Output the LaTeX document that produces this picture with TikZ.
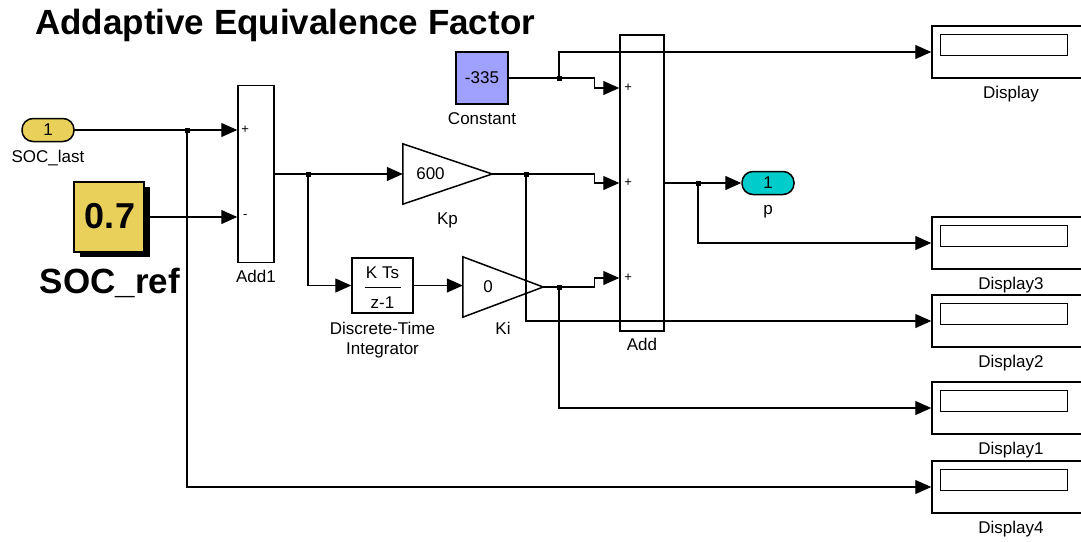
\documentclass[tikz,border=0pt]{standalone}
\usepackage{fontspec}
\setmainfont{Liberation Sans}
\usetikzlibrary{arrows.meta,calc,positioning,shadows}
\definecolor{inportyellow}{HTML}{E8D05A}
\definecolor{constblue}{HTML}{A0A0FF}
\definecolor{outcyan}{HTML}{00CCCC}
\tikzset{
every picture/.style={line cap=butt,line join=miter},
>={Triangle[length=16pt,width=14pt]},
sim block/.style={draw=black, line width=1.5pt, inner sep=0pt, font=\fontsize{17}{20}\selectfont},
port pill/.style={sim block, minimum width=52pt, minimum height=23pt, rounded corners=11pt},
gain box/.style={inner sep=0pt, minimum width=89pt, minimum height=60pt},
disp box/.style={sim block, minimum width=158pt, minimum height=52pt},
sig wire/.style={draw=black, line width=1.3pt},
sig arrow/.style={sig wire, ->},
branch dot/.style={fill=black, inner sep=0pt, minimum size=5pt},
sum sign/.style={font=\fontsize{13}{14}\selectfont, inner sep=0pt},
blk label/.style={font=\fontsize{17}{20}\selectfont, inner sep=0pt, align=center},
big bold/.style={font=\fontsize{35}{40}\selectfont\bfseries, inner sep=0pt},
every label/.style={blk label},
label distance=7pt
}

\begin{document}
\begin{tikzpicture}[x=1pt,y=-1pt]
\path[use as bounding box, fill=white] (0,0) rectangle (1081,541);
\clip (0,0) rectangle (1081,541);

\node[big bold, anchor=base west] (title) at (35,34) {Addaptive Equivalence Factor};

\node[port pill, fill=inportyellow, label={[label distance=8pt]below:SOC\_last}] (socl) at (48,130) {1};
\node[sim block, fill=inportyellow, minimum size=70pt, drop shadow={fill=black, opacity=1, shadow xshift=6pt, shadow yshift=-5pt}] (socr) at (109,217) {};
\node[big bold, font=\fontsize{36}{40}\selectfont\bfseries, anchor=base] (socrval) at (110,228) {0.7};
\node[big bold, anchor=base] (socrname) at (110,293) {SOC\_ref};

\node[sim block, minimum width=36pt, minimum height=177pt, label=below:Add1] (add1) at (256,174) {};
\node[sim block, fill=constblue, minimum size=52pt, label={[label distance=8pt]below:Constant}] (const) at (482,78) {-335};

\node[gain box, label={[label distance=8pt]below:Kp}] (kp) at (447.5,174) {};
\draw[sim block] (kp.north west) -- (kp.east) -- (kp.south west) -- cycle;
\node[blk label] (kpval) at ($(kp.center)+(-17,0)$) {600};

\node[sim block, minimum width=61pt, minimum height=55pt, label={[label distance=8pt]below:Discrete-Time\\Integrator}] (integ) at (382.5,285.5) {};
\node[blk label] (integnum) at ($(integ.center)+(0,-12.5)$) {K Ts};
\draw[line width=1pt] ($(integ.center)+(-18,1.5)$) -- ++(36,0);
\node[blk label] (integden) at ($(integ.center)+(0,17.5)$) {z-1};

\node[gain box, minimum width=80pt, label={[label distance=5pt]below:Ki}] (ki) at (503,287) {};
\draw[sim block] (ki.north west) -- (ki.east) -- (ki.south west) -- cycle;
\node[blk label] (kival) at ($(ki.center)+(-15,0)$) {0};

\node[sim block, minimum width=44pt, minimum height=296pt, label={[label distance=6pt]below:Add}] (add) at (642,183) {};
\coordinate (a1) at ($(add.west)+(0,-95)$);
\coordinate (a2) at (add.west);
\coordinate (a3) at ($(add.west)+(0,95)$);

\node[port pill, fill=outcyan, label={[label distance=10pt]below:p}] (pout) at (768,183) {1};

\foreach \name/\ypos/\txt in {disp/52/Display, disp3/243/Display3, disp2/321/Display2, disp1/408/Display1, disp4/487/Display4}{
\node[disp box, label=below:\txt] (\name) at (1011,\ypos) {};
\draw[line width=1.5pt] ($(\name.north west)+(9,9)$) rectangle ++(127,21);
}

\node[sum sign] at ($(socl.east -| add1.west)+(8,0)$) {+};
\node[sum sign] at ($(socr.east -| add1.west)+(8,0)$) {-};
\foreach \p in {a1,a2,a3}
\node[sum sign] at ($(\p)+(9,0)$) {+};

\node[branch dot] (j1) at (187,130) {};
\node[branch dot] (j2) at (308,174) {};
\node[branch dot] (j3) at (559,78) {};
\node[branch dot] (j4) at (526,174) {};
\node[branch dot] (j5) at (559,287) {};
\node[branch dot] (j6) at (698,183) {};

\draw[sig arrow] (socl.east) -- (socl.east -| add1.west);
\draw[sig arrow] (j1.center) |- (disp4.west);
\draw[sig arrow] (socr.east) -- (socr.east -| add1.west);
\draw[sig arrow] (add1.east |- kp.west) -- (kp.west);
\draw[sig arrow] (j2.center) |- (integ.west);
\draw[sig arrow] (integ.east) -- (integ.east -| ki.west);
\draw[sig arrow] (const.east) -- ++(86,0) |- (a1);
\draw[sig arrow] (j3.center) |- (disp.west);
\draw[sig arrow] (kp.east) -- ++(102,0) |- (a2);
\draw[sig arrow] (j4.center) |- (disp2.west);
\draw[sig arrow] (ki.east) -- ++(51,0) |- (a3);
\draw[sig arrow] (j5.center) |- (disp1.west);
\draw[sig arrow] (add.east) -- (pout.west);
\draw[sig arrow] (j6.center) |- (disp3.west);
\end{tikzpicture}
\end{document}
